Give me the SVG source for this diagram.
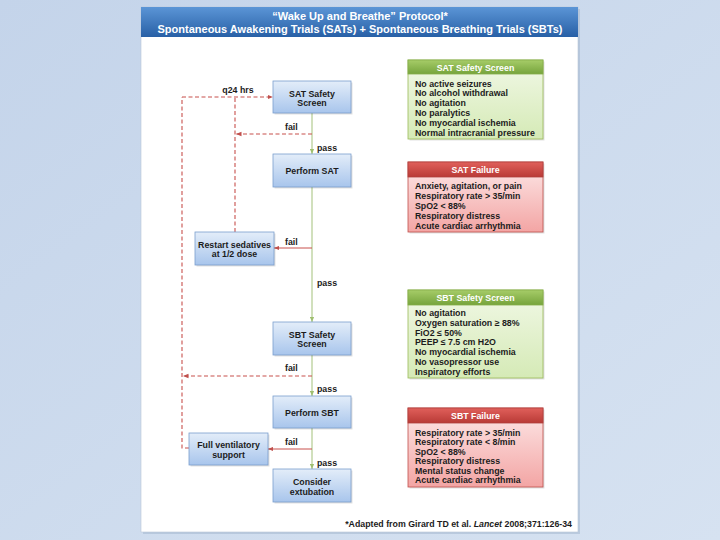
<svg xmlns="http://www.w3.org/2000/svg" width="720" height="540" viewBox="0 0 720 540">
<defs>
<linearGradient id="bg" x1="0" y1="0" x2="1" y2="1"><stop offset="0" stop-color="#c4d4ea"/><stop offset="1" stop-color="#d6e2f1"/></linearGradient>
<linearGradient id="title" x1="0" y1="0" x2="0" y2="1"><stop offset="0" stop-color="#5b95d6"/><stop offset="1" stop-color="#2860a6"/></linearGradient>
<linearGradient id="gBlue" x1="0" y1="0" x2="0" y2="1"><stop offset="0" stop-color="#e3edf9"/><stop offset="1" stop-color="#a8c5ec"/></linearGradient>
<linearGradient id="gHead" x1="0" y1="0" x2="0" y2="1"><stop offset="0" stop-color="#a6cc68"/><stop offset="1" stop-color="#76a43c"/></linearGradient>
<linearGradient id="gBody" x1="0" y1="0" x2="0" y2="1"><stop offset="0" stop-color="#f1f8e6"/><stop offset="1" stop-color="#d5eab6"/></linearGradient>
<linearGradient id="rHead" x1="0" y1="0" x2="0" y2="1"><stop offset="0" stop-color="#e0605b"/><stop offset="1" stop-color="#b93a36"/></linearGradient>
<linearGradient id="rBody" x1="0" y1="0" x2="0" y2="1"><stop offset="0" stop-color="#fde8e8"/><stop offset="1" stop-color="#f3a5a4"/></linearGradient>
<marker id="aG" viewBox="0 0 6 6" refX="6" refY="3" markerWidth="5" markerHeight="5" orient="auto"><path d="M0,0.5 L6,3 L0,5.5 z" fill="#9fbf70"/></marker>
<marker id="aR" viewBox="0 0 6 6" refX="6" refY="3" markerWidth="5" markerHeight="5" orient="auto"><path d="M0,0.5 L6,3 L0,5.5 z" fill="#c0504d"/></marker>
</defs>
<style>
.ft{font-family:"Liberation Sans",Arial,Helvetica,sans-serif;font-weight:bold;font-size:8.8px;fill:#1c1c1c}
.c{text-anchor:middle}
.hd{fill:#ffffff;text-anchor:middle}
.fb rect.b{fill:url(#gBlue);stroke:#7b9fce;stroke-width:0.8}
.sh{fill:#000;opacity:0.12}
.green{stroke:#a3c17a;stroke-width:1;fill:none}
.dash{stroke:#c8504d;stroke-width:1.1;stroke-dasharray:4,2.5;fill:none}
.solid{stroke:#c8504d;stroke-width:1;fill:none}
</style>
<rect x="0" y="0" width="720" height="540" fill="url(#bg)"/>
<rect x="143" y="9" width="437" height="525" fill="#9fb3cc" opacity="0.5"/>
<rect x="141" y="7" width="437" height="525" fill="#ffffff" stroke="#b8c6d8" stroke-width="0.6"/>
<rect x="141" y="7" width="437" height="30" fill="url(#title)"/>
<text class="ft" x="360" y="20" text-anchor="middle" style="font-size:11px;fill:#fff">“Wake Up and Breathe” Protocol*</text>
<text class="ft" x="360" y="33" text-anchor="middle" style="font-size:11px;fill:#fff">Spontaneous Awakening Trials (SATs) + Spontaneous Breathing Trials (SBTs)</text>

<g id="connectors">
<line class="green" x1="312" y1="113" x2="312" y2="154" marker-end="url(#aG)"/>
<line class="green" x1="312" y1="187" x2="312" y2="322" marker-end="url(#aG)"/>
<line class="green" x1="312" y1="355" x2="312" y2="396" marker-end="url(#aG)"/>
<line class="green" x1="312" y1="428" x2="312" y2="469" marker-end="url(#aG)"/>
<polyline class="dash" points="312,134 236,134" marker-end="url(#aR)"/>
<polyline class="dash" points="235,232 235,97"/>
<polyline class="dash" points="182,97 273,97" marker-end="url(#aR)"/>
<polyline class="dash" points="189,448 182,448 182,97"/>
<polyline class="dash" points="312,376 183,376" marker-end="url(#aR)"/>
<line class="solid" x1="312" y1="248" x2="274" y2="248" marker-end="url(#aR)"/>
<line class="solid" x1="312" y1="449" x2="268" y2="449" marker-end="url(#aR)"/>
<text class="ft c" x="238" y="93">q24 hrs</text>
<text class="ft" x="285" y="130">fail</text>
<text class="ft" x="317" y="151">pass</text>
<text class="ft" x="285" y="245">fail</text>
<text class="ft" x="317" y="286">pass</text>
<text class="ft" x="285" y="371">fail</text>
<text class="ft" x="317" y="392">pass</text>
<text class="ft" x="285" y="445">fail</text>
<text class="ft" x="317" y="466">pass</text>
</g>

<g id="sat-safety" class="fb"><rect class="sh" x="274.5" y="82.5" width="78" height="32"/><rect class="b" x="273" y="81" width="78" height="32"/><text class="ft c" x="312" y="96.5">SAT Safety</text><text class="ft c" x="312" y="106">Screen</text></g>
<g id="perform-sat" class="fb"><rect class="sh" x="274.5" y="155.5" width="78" height="33"/><rect class="b" x="273" y="154" width="78" height="33"/><text class="ft c" x="312" y="174">Perform SAT</text></g>
<g id="restart" class="fb"><rect class="sh" x="196.5" y="233.5" width="79" height="33"/><rect class="b" x="195" y="232" width="79" height="33"/><text class="ft c" x="234.5" y="247.5">Restart sedatives</text><text class="ft c" x="234.5" y="257">at 1/2 dose</text></g>
<g id="sbt-safety" class="fb"><rect class="sh" x="274.5" y="323.5" width="78" height="33"/><rect class="b" x="273" y="322" width="78" height="33"/><text class="ft c" x="312" y="337.5">SBT Safety</text><text class="ft c" x="312" y="347">Screen</text></g>
<g id="perform-sbt" class="fb"><rect class="sh" x="274.5" y="397.5" width="78" height="32"/><rect class="b" x="273" y="396" width="78" height="32"/><text class="ft c" x="312" y="416">Perform SBT</text></g>
<g id="full-vent" class="fb"><rect class="sh" x="190.5" y="434.5" width="79" height="32"/><rect class="b" x="189" y="433" width="79" height="32"/><text class="ft c" x="228.5" y="448">Full ventilatory</text><text class="ft c" x="228.5" y="458">support</text></g>
<g id="extubation" class="fb"><rect class="sh" x="274.5" y="470.5" width="78" height="33"/><rect class="b" x="273" y="469" width="78" height="33"/><text class="ft c" x="312" y="485">Consider</text><text class="ft c" x="312" y="494.5">extubation</text></g>

<g id="sat-safety-screen">
<rect class="sh" x="409.5" y="61.5" width="135" height="79"/>
<rect x="408" y="60" width="135" height="79" fill="url(#gBody)" stroke="#9bbb59" stroke-width="0.8"/>
<rect x="408" y="60" width="135" height="14" fill="url(#gHead)" stroke="#85ad4a" stroke-width="0.8"/>
<text class="ft hd" x="475.5" y="70.5">SAT Safety Screen</text>
<text class="ft" x="415" y="86.5">No active seizures</text>
<text class="ft" x="415" y="96.3">No alcohol withdrawal</text>
<text class="ft" x="415" y="106.1">No agitation</text>
<text class="ft" x="415" y="115.9">No paralytics</text>
<text class="ft" x="415" y="125.7">No myocardial ischemia</text>
<text class="ft" x="415" y="135.5">Normal intracranial pressure</text>
</g>
<g id="sat-failure">
<rect class="sh" x="409.5" y="163.5" width="135" height="70"/>
<rect x="408" y="162" width="135" height="70" fill="url(#rBody)" stroke="#c0504d" stroke-width="0.8"/>
<rect x="408" y="162" width="135" height="15" fill="url(#rHead)" stroke="#b0403c" stroke-width="0.8"/>
<text class="ft hd" x="475.5" y="173">SAT Failure</text>
<text class="ft" x="415" y="189">Anxiety, agitation, or pain</text>
<text class="ft" x="415" y="199">Respiratory rate &gt; 35/min</text>
<text class="ft" x="415" y="209">SpO2 &lt; 88%</text>
<text class="ft" x="415" y="219">Respiratory distress</text>
<text class="ft" x="415" y="229">Acute cardiac arrhythmia</text>
</g>
<g id="sbt-safety-screen">
<rect class="sh" x="409.5" y="291.5" width="135" height="88"/>
<rect x="408" y="290" width="135" height="88" fill="url(#gBody)" stroke="#9bbb59" stroke-width="0.8"/>
<rect x="408" y="290" width="135" height="15" fill="url(#gHead)" stroke="#85ad4a" stroke-width="0.8"/>
<text class="ft hd" x="475.5" y="301">SBT Safety Screen</text>
<text class="ft" x="415" y="316">No agitation</text>
<text class="ft" x="415" y="325.8">Oxygen saturation ≥ 88%</text>
<text class="ft" x="415" y="335.6">FiO2 ≤ 50%</text>
<text class="ft" x="415" y="345.4">PEEP ≤ 7.5 cm H2O</text>
<text class="ft" x="415" y="355.2">No myocardial ischemia</text>
<text class="ft" x="415" y="365">No vasopressor use</text>
<text class="ft" x="415" y="374.8">Inspiratory efforts</text>
</g>
<g id="sbt-failure">
<rect class="sh" x="409.5" y="409.5" width="135" height="79"/>
<rect x="408" y="408" width="135" height="79" fill="url(#rBody)" stroke="#c0504d" stroke-width="0.8"/>
<rect x="408" y="408" width="135" height="15" fill="url(#rHead)" stroke="#b0403c" stroke-width="0.8"/>
<text class="ft hd" x="475.5" y="419">SBT Failure</text>
<text class="ft" x="415" y="435.5">Respiratory rate &gt; 35/min</text>
<text class="ft" x="415" y="445">Respiratory rate &lt; 8/min</text>
<text class="ft" x="415" y="454.5">SpO2 &lt; 88%</text>
<text class="ft" x="415" y="464">Respiratory distress</text>
<text class="ft" x="415" y="473.5">Mental status change</text>
<text class="ft" x="415" y="483">Acute cardiac arrhythmia</text>
</g>
<text class="ft" x="572" y="527" text-anchor="end">*Adapted from Girard TD et al. <tspan font-style="italic">Lancet</tspan> 2008;371:126-34</text>
</svg>
